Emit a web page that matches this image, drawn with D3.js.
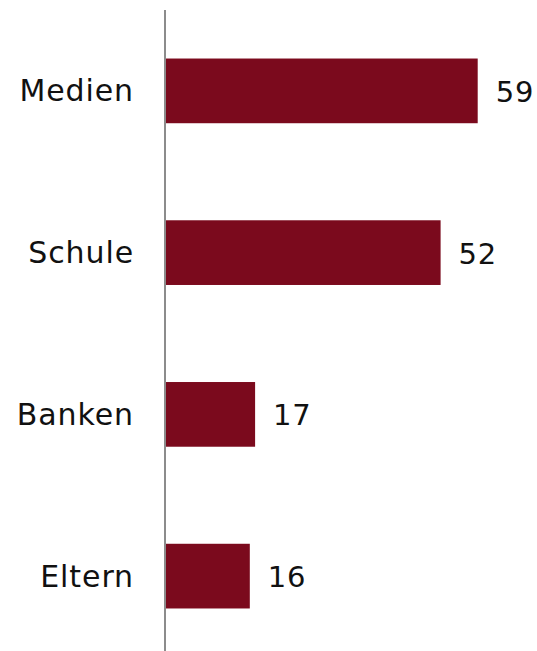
<!DOCTYPE html>
<html>
<head>
<meta charset="utf-8">
<script src="https://cdn.jsdelivr.net/npm/d3@7"></script>
<style>
  html, body { margin: 0; padding: 0; background: #fff; }
  svg { display: block; }
</style>
</head>
<body>
<script>
// Kategorien und Werte
const categories = ["Medien", "Schule", "Banken", "Eltern"];
const values = [59, 52, 17, 16];

const width = 537, height = 651;
const axisX = 165;

const svg = d3.select("body").append("svg")
  .attr("width", width)
  .attr("height", height);

const y = d3.scaleBand()
  .domain(categories)
  .range([10, 657])
  .paddingInner(0.6)
  .paddingOuter(0.3);

const x = d3.scaleLinear()
  .domain([0, 60])
  .range([axisX, axisX + 318]);

const data = categories.map((c, i) => ({ c, v: values[i] }));

// Balken
svg.selectAll("rect.bar")
  .data(data)
  .join("rect")
  .attr("class", "bar")
  .attr("x", x(0))
  .attr("y", d => y(d.c))
  .attr("width", d => x(d.v) - x(0))
  .attr("height", y.bandwidth())
  .attr("fill", "#7b0a1d");

// Kategorieachse
svg.append("line")
  .attr("x1", axisX).attr("x2", axisX)
  .attr("y1", 10).attr("y2", height)
  .attr("stroke", "#8c8c8c")
  .attr("stroke-width", 2);

const font = "'DejaVu Sans', Verdana, sans-serif";

// Kategoriebeschriftungen
svg.selectAll("text.cat")
  .data(data)
  .join("text")
  .attr("class", "cat")
  .attr("x", axisX - 31)
  .attr("y", d => y(d.c) + y.bandwidth() / 2)
  .attr("text-anchor", "end")
  .attr("dominant-baseline", "central")
  .attr("font-family", font)
  .attr("font-size", 30)
  .attr("letter-spacing", 0.9)
  .attr("fill", "#111")
  .text(d => d.c);

// Wertbeschriftungen
svg.selectAll("text.val")
  .data(data)
  .join("text")
  .attr("class", "val")
  .attr("x", d => x(d.v) + 18)
  .attr("y", d => y(d.c) + y.bandwidth() / 2 + 1)
  .attr("text-anchor", "start")
  .attr("dominant-baseline", "central")
  .attr("font-family", font)
  .attr("font-size", 29)
  .attr("letter-spacing", 0.8)
  .attr("fill", "#111")
  .text(d => d.v);
</script>
</body>
</html>
